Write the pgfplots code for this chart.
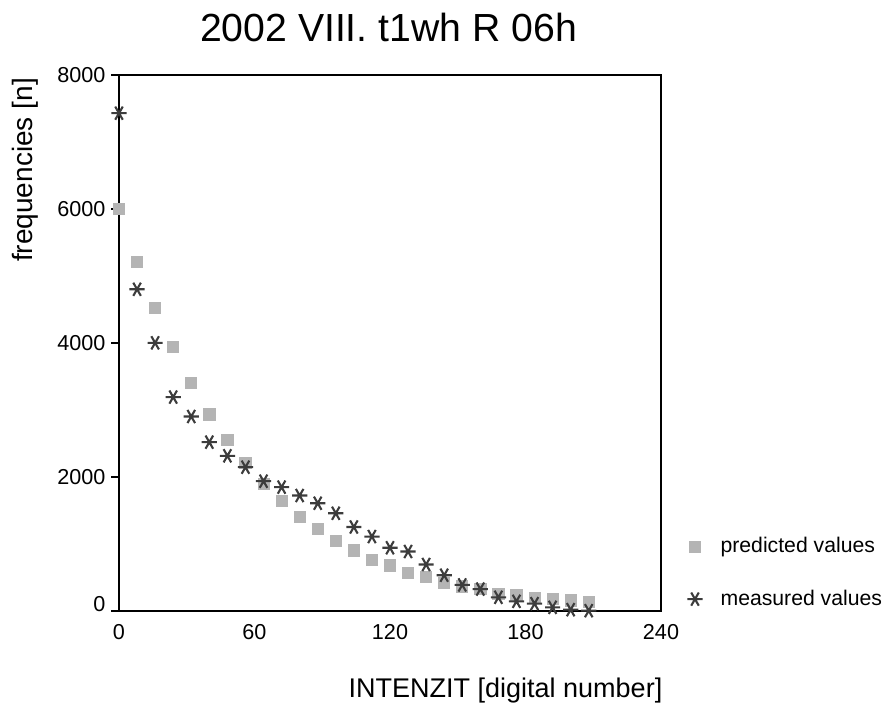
\documentclass[border=0pt]{standalone}
\usepackage{pgfplots}
\pgfplotsset{compat=1.18}
\usepackage{fontspec}
\setmainfont{Liberation Sans}
\definecolor{predgray}{HTML}{B4B4B4}
\definecolor{measgray}{HTML}{3C3C3C}
\pgfplotstableread{
x pred meas
0 6000 7430
8 5204 4800
16 4527 4000
24 3940 3190
32 3405 2900
40 2930 2517
48 2552 2313
56 2203 2143
64 1894 1934
72 1635 1845
80 1395 1720
88 1221 1605
96 1047 1455
104 900 1250
112 755 1107
120 675 940
128 562 884
136 502 690
144 413 530
152 362 385
160 323 323
168 250 200
176 235 140
184 190 105
192 180 50
200 154 15
208 130 0
}\datatable
\begin{document}
\begin{tikzpicture}
\useasboundingbox (-59.5pt,-53.15pt) rectangle (383pt,305.35pt);
\begin{axis}[
  at={(0,0)}, anchor=south west,
  scale only axis,
  width=271pt, height=267.85pt,
  xmin=0, xmax=240, ymin=0, ymax=8000,
  xtick={0,60,120,180,240},
  ytick={2000,4000,6000,8000},
  extra y ticks={0},
  extra y tick style={yticklabel style={yshift=3.5pt}},
  scaled ticks=false,
  /pgf/number format/assume math mode=true,
  /pgf/number format/1000 sep={},
  tickpos=left,
  ytick align=outside,
  major tick length=3.8pt,
  xtick style={draw=none},
  ytick style={line width=0.9pt, black},
  axis line style={line width=1pt},
  ticklabel style={font=\fontsize{10.8pt}{12pt}\selectfont},
  xticklabel style={yshift=-3.2pt},
  yticklabel style={xshift=0.5pt},
  clip=false,
  legend style={draw=none, fill=none, at={(axis description cs:1.0,0.0)}, anchor=south west,
    font=\fontsize{10.6pt}{12pt}\selectfont, row sep=13pt, xshift=10pt, yshift=-3pt,
    /tikz/every odd column/.append style={column sep=7pt}},
  legend cell align=left,
]
\addplot[only marks, mark=square*, mark size=2.8pt, color=predgray,
  mark options={rounded corners=0.9pt, draw=predgray, fill=predgray}] table[x=x, y=pred] {\datatable};
\addlegendentry{predicted values}
\addplot[only marks, mark=asterisk, mark size=3.8pt, color=measgray,
  mark options={line width=1.05pt, rotate=90}] table[x=x, y=meas] {\datatable};
\addlegendentry{measured values}
\end{axis}
\node[anchor=base, font=\fontsize{19.6pt}{22pt}\selectfont] at (134.75pt,284.5pt) {2002 VIII. t1wh R 06h};
\node[rotate=90, font=\fontsize{14pt}{16pt}\selectfont] at (-47pt,220.35pt) {frequencies [n]};
\node[anchor=base, font=\fontsize{13.5pt}{16pt}\selectfont] at (193.25pt,-43.65pt) {INTENZIT [digital number]};
\end{tikzpicture}
\end{document}
